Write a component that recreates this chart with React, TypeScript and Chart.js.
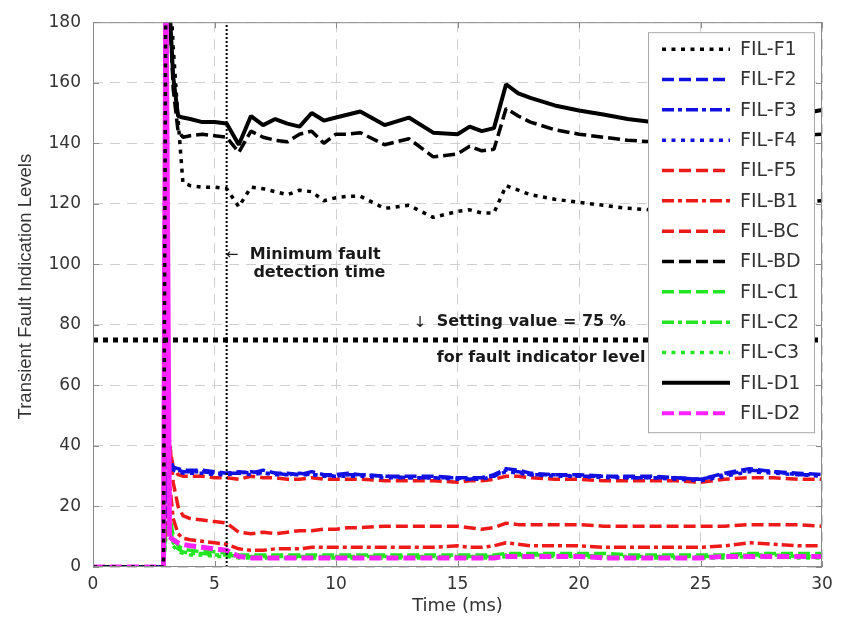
import React, { useEffect, useRef } from 'react';
import { Chart, registerables } from 'chart.js';

Chart.register(...registerables);

// ---------------- data ----------------
const timeMs = [0, 1, 2, 2.9, 3.0, 3.15, 3.3, 3.5, 3.7, 4, 4.5, 5, 5.5, 6, 6.5, 7, 7.5, 8, 8.5, 9, 9.5, 10, 10.5, 11, 12, 13, 14, 15, 15.5, 16, 16.5, 17, 17.5, 18, 19, 20, 21, 22, 23, 24, 25, 26, 27, 28, 29, 30];

const filF1 = [0, 0, 0, 0, 200, 195, 172, 148, 127, 126, 125.5, 125.5, 125, 119, 125.5, 125, 124, 123, 124.5, 124, 121, 122, 122.5, 122.5, 118.5, 119.5, 115.5, 117.5, 118, 117, 117, 126, 124.5, 123, 121.5, 120.5, 119.5, 118.5, 118, 118, 118.5, 119, 119.5, 120, 120.5, 121];
const filF2 = [0, 0, 0, 0, 35, 36, 33, 32.5, 32, 32, 32, 31.5, 31, 31.5, 31, 32, 31, 31, 30.5, 31.5, 30.5, 30.5, 31, 30.5, 30, 30, 30, 29.5, 29.5, 29.5, 30.5, 32.5, 32, 31, 30.5, 30.5, 30, 30, 30, 29.5, 29, 31, 32.5, 31.5, 31, 30.5];
const filF3 = [0, 0, 0, 0, 34, 35, 32.5, 32, 31.5, 31.5, 31.5, 31, 31, 31, 31.5, 31, 31, 30.5, 31, 30.5, 30.5, 30, 30.5, 30.5, 30, 29.5, 29.5, 29.5, 29, 29.5, 30, 32, 31.5, 30.5, 30.5, 30, 30, 29.5, 29.5, 29.5, 29, 30.5, 32, 31.5, 30.5, 30.5];
const filF4 = [0, 0, 0, 0, 33, 34, 32, 31.5, 31, 31, 31, 30.5, 30.5, 31, 30.5, 31, 30.5, 30.5, 30.5, 30.5, 30, 30, 30, 30, 29.5, 29.5, 29.5, 29, 29, 29, 30, 31.5, 31, 30.5, 30, 30, 29.5, 29.5, 29.5, 29, 28.5, 30, 31.5, 31, 30.5, 30];
const filF5 = [0, 0, 0, 0, 38, 40, 33, 30.5, 30, 30, 30, 29.5, 29.5, 29, 30, 29.5, 29.5, 29, 29, 29.5, 29, 29, 29, 29, 28.5, 28.5, 28.5, 28, 28.5, 28.5, 29, 30, 30, 29.5, 29, 29, 28.5, 28.5, 28.5, 28.5, 28, 29, 29.5, 29.5, 29, 29];
const filB1 = [0, 0, 0, 0, 20, 28, 16, 11, 9.5, 9, 8.5, 8, 7.5, 6, 5.5, 5.5, 6, 6, 6, 6.5, 6.5, 6.5, 6.5, 6.5, 6.5, 6.5, 6.5, 7, 6.5, 6.5, 7, 8, 7.5, 7, 7, 7, 6.5, 6.5, 6.5, 6.5, 6.5, 7, 8, 7.5, 7, 7];
const filBC = [0, 0, 0, 0, 35, 42, 28, 20, 17, 16, 15.5, 15, 14.5, 11.5, 11, 11.5, 11, 11.5, 12, 12, 12.5, 12.5, 13, 13, 13.5, 13.5, 13.5, 13.5, 13, 12.5, 13, 14.5, 14, 14, 14, 14, 13.5, 13.5, 13.5, 13.5, 13.5, 13.5, 14, 14, 14, 13.5];
const filBD = [0, 0, 0, 0, 200, 185, 158, 144, 142, 142.5, 143, 142.5, 142, 137, 144, 142, 141, 140.5, 143, 144, 140, 143, 143, 143.5, 139.5, 141.5, 135.5, 136.5, 139, 137.5, 138, 151.5, 149, 147, 144.5, 143, 142, 141, 140.5, 140, 140, 140.5, 141, 141.5, 142.5, 143];
const filC1 = [0, 0, 0, 0, 15, 18, 10, 7, 6, 5.5, 5, 5, 4.5, 4, 4, 4, 4, 4, 4, 4, 4, 4, 4, 4, 4, 4, 4, 4, 4, 4, 4, 4.5, 4.5, 4.5, 4.5, 4.5, 4.5, 4, 4, 4, 4, 4, 4.5, 4.5, 4.5, 4.5];
const filC2 = [0, 0, 0, 0, 12, 15, 8, 6, 5, 4.5, 4.5, 4, 4, 3.5, 3.5, 3.5, 3.5, 3.5, 3.5, 3.5, 3.5, 3.5, 3.5, 3.5, 3.5, 3.5, 3.5, 3.5, 3.5, 3.5, 3.5, 4, 4, 4, 4, 4, 3.5, 3.5, 3.5, 3.5, 3.5, 3.5, 4, 4, 3.5, 3.5];
const filC3 = [0, 0, 0, 0, 10, 12, 7, 5, 4.5, 4, 4, 3.5, 3.5, 3, 3, 3, 3, 3, 3, 3, 3, 3, 3, 3, 3, 3, 3, 3, 3, 3, 3, 3.5, 3.5, 3.5, 3.5, 3.5, 3, 3, 3, 3, 3, 3, 3.5, 3.5, 3, 3];
const filD1 = [0, 0, 0, 0, 200, 185, 162, 149, 148.5, 148, 147, 147, 146.5, 139.5, 149, 146, 148, 146.5, 145.5, 150, 147.5, 148.5, 149.5, 150.5, 146, 148.5, 143.5, 143, 145.5, 144, 145, 159.5, 156.5, 155, 152.5, 150.8, 149.5, 148, 147, 146.5, 146.5, 147, 147.5, 148.5, 149.5, 151];
const filD2 = [0, 0, 0, 0, 200, 10, 9, 8, 7.5, 7, 6.5, 6, 5.5, 3.5, 3, 3, 3, 3, 3, 3, 3, 3, 3, 3, 3, 3, 3, 3, 3, 3, 3, 3.5, 3.5, 3.5, 3.5, 3.5, 3, 3, 3, 3, 3, 3.5, 3.5, 3.5, 3.5, 3.5];

const seriesNames = ['FIL-F1', 'FIL-F2', 'FIL-F3', 'FIL-F4', 'FIL-F5', 'FIL-B1', 'FIL-BC', 'FIL-BD', 'FIL-C1', 'FIL-C2', 'FIL-C3', 'FIL-D1', 'FIL-D2'];
const seriesValues = [filF1, filF2, filF3, filF4, filF5, filB1, filBC, filBD, filC1, filC2, filC3, filD1, filD2];

const yTicks = [0, 20, 40, 60, 80, 100, 120, 140, 160, 180];
const xTicks = [0, 5, 10, 15, 20, 25, 30];

const SETTING_VALUE = 75; // %
const MIN_DETECT_TIME = 5.5; // ms

// ---------------- styles ----------------
const FONT = "'DejaVu Sans', sans-serif";
const BLACK = '#000000';
const BLUE = '#1010e0';
const RED = '#ee1a1a';
const GREEN = '#22e622';
const MAGENTA = '#ff22ff';
const DOT = [4, 5.5];
const DASH = [12, 5];
const DASHDOT = [12, 4, 4, 4];

const seriesStyles = [
  { color: BLACK, dash: DOT, width: 3.5 },
  { color: BLUE, dash: DASH, width: 3.5 },
  { color: BLUE, dash: DASHDOT, width: 3.5 },
  { color: BLUE, dash: DOT, width: 3.5 },
  { color: RED, dash: DASH, width: 3.5 },
  { color: RED, dash: DASHDOT, width: 3.5 },
  { color: RED, dash: DASH, width: 3.5 },
  { color: BLACK, dash: DASH, width: 3.5 },
  { color: GREEN, dash: DASH, width: 3.5 },
  { color: GREEN, dash: DASHDOT, width: 3.5 },
  { color: GREEN, dash: DOT, width: 3.5 },
  { color: BLACK, dash: [] as number[], width: 4 },
  { color: MAGENTA, dash: DASH, width: 5 },
];

const decorPlugin = {
  id: 'decor',
  afterDatasetsDraw(chart: any) {
    const { ctx, chartArea: a, scales } = chart;
    const x = scales.x;
    const y = scales.y;
    ctx.save();
    ctx.beginPath();
    ctx.rect(a.left, a.top, a.right - a.left, a.bottom - a.top);
    ctx.clip();

    const ys = y.getPixelForValue(SETTING_VALUE);
    ctx.strokeStyle = '#000';
    ctx.lineWidth = 5;
    ctx.lineCap = 'butt';
    ctx.setLineDash([5, 5]);
    ctx.beginPath();
    ctx.moveTo(a.left, ys);
    ctx.lineTo(a.right, ys);
    ctx.stroke();

    const xm = x.getPixelForValue(MIN_DETECT_TIME);
    ctx.lineWidth = 2;
    ctx.setLineDash([2, 2]);
    ctx.beginPath();
    ctx.moveTo(xm, a.bottom);
    ctx.lineTo(xm, a.top);
    ctx.stroke();
    ctx.setLineDash([]);
    ctx.restore();

    ctx.save();
    ctx.fillStyle = '#1a1a1a';
    ctx.textBaseline = 'middle';
    ctx.textAlign = 'left';
    ctx.font = `15px ${FONT}`;
    ctx.fillText('\u2190', xm - 1, y.getPixelForValue(103));
    ctx.font = `bold 16px ${FONT}`;
    ctx.fillText('Minimum fault', x.getPixelForValue(6.45), y.getPixelForValue(103));
    ctx.fillText('detection time', x.getPixelForValue(6.6), y.getPixelForValue(97.3));
    ctx.font = `15px ${FONT}`;
    ctx.fillText('\u2193', x.getPixelForValue(13.2), y.getPixelForValue(80.5));
    ctx.font = `bold 16px ${FONT}`;
    ctx.fillText('Setting value = 75 %', x.getPixelForValue(14.15), y.getPixelForValue(81));
    ctx.fillText('for fault indicator level', x.getPixelForValue(14.15), y.getPixelForValue(69));
    ctx.restore();

    ctx.save();
    ctx.strokeStyle = '#8a8a8a';
    ctx.lineWidth = 1;
    ctx.strokeRect(a.left + 0.5, a.top + 0.5, a.right - a.left - 1, a.bottom - a.top - 1);
    ctx.beginPath();
    const tl = 6;
    yTicks.forEach((v) => {
      const py = Math.round(y.getPixelForValue(v)) + 0.5;
      ctx.moveTo(a.left, py); ctx.lineTo(a.left + tl, py);
      ctx.moveTo(a.right, py); ctx.lineTo(a.right - tl, py);
    });
    xTicks.forEach((v) => {
      const px = Math.round(x.getPixelForValue(v)) + 0.5;
      ctx.moveTo(px, a.bottom); ctx.lineTo(px, a.bottom - tl);
      ctx.moveTo(px, a.top); ctx.lineTo(px, a.top + tl);
    });
    ctx.stroke();
    ctx.restore();

    ctx.save();
    const lw = 166;
    const lh = 400;
    const lx = a.right - 174;
    const ly = a.top + 10;
    ctx.fillStyle = '#ffffff';
    ctx.fillRect(lx, ly, lw, lh);
    ctx.strokeStyle = '#a8a8a8';
    ctx.lineWidth = 1;
    ctx.strokeRect(lx + 0.5, ly + 0.5, lw, lh);
    chart.data.datasets.forEach((ds: any, i: number) => {
      const cy = ly + 17 + i * 30.33;
      ctx.strokeStyle = ds.borderColor;
      ctx.lineWidth = Math.min(ds.borderWidth, 4);
      ctx.lineCap = 'butt';
      ctx.setLineDash(ds.borderDash || []);
      ctx.beginPath();
      ctx.moveTo(lx + 14, cy);
      ctx.lineTo(lx + 82, cy);
      ctx.stroke();
      ctx.setLineDash([]);
      ctx.fillStyle = '#333333';
      ctx.font = `19px ${FONT}`;
      ctx.textAlign = 'left';
      ctx.textBaseline = 'middle';
      ctx.fillText(ds.label, lx + 92, cy + 1);
    });
    ctx.restore();
  },
  afterDraw(chart: any) {
    const { ctx, chartArea: a } = chart;
    ctx.save();
    ctx.fillStyle = '#333333';
    ctx.textAlign = 'center';
    ctx.textBaseline = 'middle';
    ctx.font = `18px ${FONT}`;
    ctx.fillText('Time (ms)', (a.left + a.right) / 2, a.bottom + 39);
    ctx.translate(26, (a.top + a.bottom) / 2 - 8);
    ctx.rotate(-Math.PI / 2);
    ctx.font = `18.5px 'Liberation Sans', Arial, sans-serif`;
    ctx.fillText('Transient Fault Indication Levels', 0, 0);
    ctx.restore();
  },
};

export default function App() {
  const ref = useRef<HTMLCanvasElement | null>(null);
  useEffect(() => {
    if (!ref.current) return;
    const datasets = seriesNames.map((name, i) => {
      const st = seriesStyles[i];
      const ds: any = {
        label: name,
        data: timeMs.map((t, k) => ({ x: t, y: seriesValues[i][k] })),
        borderColor: st.color,
        backgroundColor: st.color,
        borderWidth: st.width,
        borderDash: st.dash,
        borderCapStyle: 'butt',
        borderJoinStyle: 'bevel',
        pointRadius: 0,
        pointHoverRadius: 0,
        tension: 0,
        fill: false,
        // F1 on top, then D2, then the rest in legend order
        order: name === 'FIL-F1' ? 0 : name === 'FIL-D2' ? 1 : i + 2,
      };
      if (name === 'FIL-D2') {
        ds.segment = {
          borderDash: (c: any) => (Math.abs(c.p1.parsed.y - c.p0.parsed.y) > 50 ? [] : undefined),
        };
      }
      return ds;
    });
    const chart = new Chart(ref.current, {
      type: 'line',
      data: { datasets },
      options: {
        animation: false,
        responsive: false,
        events: [],
        layout: { padding: { top: 17, right: 20, left: 0, bottom: 0 } },
        plugins: { legend: { display: false }, tooltip: { enabled: false }, title: { display: false } },
        scales: {
          x: {
            type: 'linear',
            min: 0,
            max: 30,
            afterFit: (s: any) => { s.height = 56; },
            afterBuildTicks: (s: any) => { s.ticks = xTicks.map((v) => ({ value: v })); },
            ticks: { color: '#333', font: { family: FONT, size: 17 }, padding: 7, maxRotation: 0 },
            grid: { color: '#cfcfcf', lineWidth: 1, drawTicks: false },
            border: { display: false, dash: [10, 7] },
          },
          y: {
            type: 'linear',
            min: 0,
            max: 180,
            afterFit: (s: any) => { s.width = 93; },
            afterBuildTicks: (s: any) => { s.ticks = yTicks.map((v) => ({ value: v })); },
            ticks: { color: '#333', font: { family: FONT, size: 17 }, padding: 12 },
            grid: { color: '#cfcfcf', lineWidth: 1, drawTicks: false },
            border: { display: false, dash: [10, 7] },
          },
        },
      },
      plugins: [decorPlugin],
    } as any);
    return () => chart.destroy();
  }, []);
  return (
    <div style={{ position: 'fixed', left: 0, top: 0, width: 842, height: 623, background: '#fff' }}>
      <canvas ref={ref} width={842} height={623} style={{ width: 842, height: 623, display: 'block' }} />
    </div>
  );
}
